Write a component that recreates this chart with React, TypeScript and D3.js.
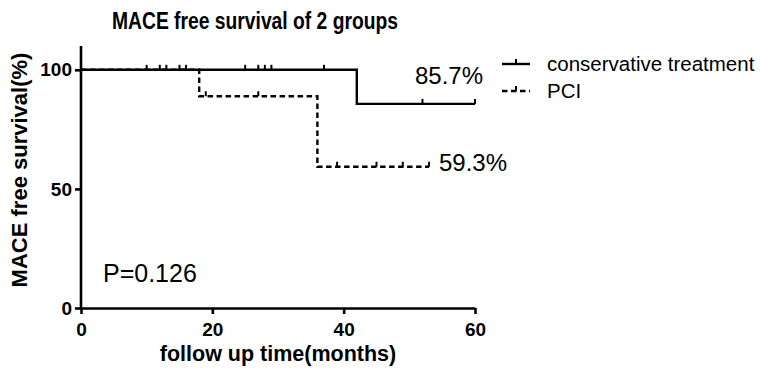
import { useEffect, useRef } from 'react';
import * as d3 from 'd3';

// Kaplan-Meier steps
const consTimes = [0, 42];
const consSurv = [100, 85.7];
const consEnd = 60;
const consCensor = [10, 12, 13, 15, 16, 25, 27, 28, 29, 37, 52, 60];

const pciTimes = [0, 18, 36];
const pciSurv = [100, 88.9, 59.3];
const pciEnd = 53;
const pciCensor = [19, 27, 39, 45, 49, 53];

const xTicks = [0, 20, 40, 60];
const yTicks = [0, 50, 100];
const groupNames = ['conservative treatment', 'PCI'];
const endLabels = ['85.7%', '59.3%'];

const W = 760;
const H = 369;
const FONT = 'Arial, "Liberation Sans", Helvetica, sans-serif';

export default function App() {
    const svgRef = useRef<SVGSVGElement>(null);

    useEffect(() => {
        if (!svgRef.current) return;
        const svg = d3.select(svgRef.current);
        svg.selectAll('*').remove();

        const x = d3.scaleLinear().domain([0, 60]).range([81, 475]);
        const y = d3.scaleLinear().domain([0, 110]).range([308, 46]);

        const survAt = (times: number[], surv: number[], t: number) => {
            let s = surv[0];
            times.forEach((tt, i) => {
                if (t >= tt) s = surv[i];
            });
            return s;
        };

        const line = d3
            .line<[number, number]>()
            .x((d) => x(d[0]))
            .y((d) => y(d[1]))
            .curve(d3.curveStepAfter);

        const groups = [
            { times: consTimes, surv: consSurv, end: consEnd, censor: consCensor, dash: null },
            { times: pciTimes, surv: pciSurv, end: pciEnd, censor: pciCensor, dash: '5.5,3.5' },
        ];

        groups.forEach((g) => {
            const pts: [number, number][] = g.times.map((t, i) => [t, g.surv[i]]);
            pts.push([g.end, g.surv[g.surv.length - 1]]);
            svg.append('path')
                .attr('d', line(pts))
                .attr('fill', 'none')
                .attr('stroke', '#000')
                .attr('stroke-width', 2.4)
                .attr('stroke-dasharray', g.dash);

            svg.append('g')
                .selectAll('line')
                .data(g.censor)
                .enter()
                .append('line')
                .attr('x1', (d) => x(d))
                .attr('x2', (d) => x(d))
                .attr('y1', (d) => y(survAt(g.times, g.surv, d)))
                .attr('y2', (d) => y(survAt(g.times, g.surv, d)) - 5)
                .attr('stroke', '#000')
                .attr('stroke-width', 2);
        });

        // axes
        const xAxis = svg.append('g').attr('transform', 'translate(0,308)');
        xAxis.call(d3.axisBottom(x).tickValues(xTicks).tickSize(6).tickSizeOuter(0));
        const yAxis = svg.append('g').attr('transform', 'translate(81,0)');
        yAxis.call(d3.axisLeft(y).tickValues(yTicks).tickSize(6).tickSizeOuter(0));

        [xAxis, yAxis].forEach((a) => {
            a.select('.domain').attr('stroke-width', 2.6).attr('stroke', '#000');
            a.selectAll('.tick line').attr('stroke-width', 2.6).attr('stroke', '#000');
            a.selectAll('.tick text')
                .attr('font-family', FONT)
                .attr('font-size', 19)
                .attr('font-weight', 'bold')
                .attr('fill', '#000');
        });
        xAxis.selectAll('.tick text').attr('y', 15).attr('dy', '0.71em');
        yAxis.selectAll('.tick text').attr('x', -9);
        yAxis.select('.domain').attr('d', `M0,${y(110)}V${y(0)}`);

        // titles
        svg.append('text')
            .attr('x', 112)
            .attr('y', 29)
            .attr('textLength', 286)
            .attr('lengthAdjust', 'spacingAndGlyphs')
            .attr('font-family', FONT)
            .attr('font-size', 23)
            .attr('font-weight', 'bold')
            .text('MACE free survival of 2 groups');

        svg.append('text')
            .attr('x', 278)
            .attr('y', 361)
            .attr('text-anchor', 'middle')
            .attr('font-family', FONT)
            .attr('font-size', 21.5)
            .attr('font-weight', 'bold')
            .text('follow up time(months)');

        svg.append('text')
            .attr('transform', `translate(27,${170}) rotate(-90)`)
            .attr('text-anchor', 'middle')
            .attr('font-family', FONT)
            .attr('font-size', 22)
            .attr('font-weight', 'bold')
            .text('MACE free survival(%)');

        // annotations
        svg.append('text')
            .attr('x', 415)
            .attr('y', 84)
            .attr('font-family', FONT)
            .attr('font-size', 24)
            .text(endLabels[0]);
        svg.append('text')
            .attr('x', 439)
            .attr('y', 171)
            .attr('font-family', FONT)
            .attr('font-size', 24)
            .text(endLabels[1]);
        svg.append('text')
            .attr('x', 103)
            .attr('y', 282)
            .attr('font-family', FONT)
            .attr('font-size', 25)
            .text('P=0.126');

        // legend
        groupNames.forEach((name, i) => {
            const ly = 64 + i * 27;
            svg.append('line')
                .attr('x1', 502)
                .attr('x2', 530)
                .attr('y1', ly)
                .attr('y2', ly)
                .attr('stroke', '#000')
                .attr('stroke-width', 2.4)
                .attr('stroke-dasharray', groups[i].dash);
            svg.append('line')
                .attr('x1', 516)
                .attr('x2', 516)
                .attr('y1', ly)
                .attr('y2', ly - 5)
                .attr('stroke', '#000')
                .attr('stroke-width', 2);
            svg.append('text')
                .attr('x', 547)
                .attr('y', ly + 7)
                .attr('font-family', FONT)
                .attr('font-size', 20.5)
                .text(name);
        });
    }, []);

    return (
        <svg
            ref={svgRef}
            width={W}
            height={H}
            style={{ display: 'block', position: 'absolute', left: 0, top: 0, background: '#fff' }}
        ></svg>
    );
}
